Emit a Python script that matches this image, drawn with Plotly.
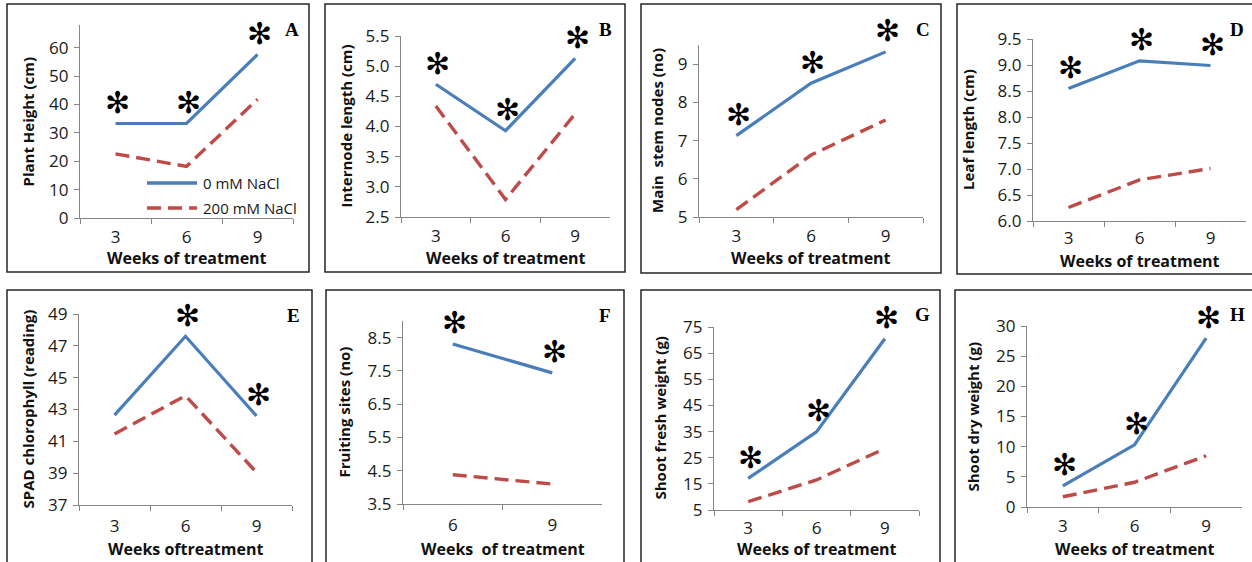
import plotly.graph_objects as go

W, H = 1252, 562

# ---- data -------------------------------------------------------------
weeks = ["3", "6", "9"]
weeks_fruit = ["6", "9"]

height_0 = [33.3, 33.3, 57.6]
height_200 = [22.6, 18.2, 41.8]
internode_0 = [4.70, 3.93, 5.13]
internode_200 = [4.34, 2.79, 4.21]
nodes_0 = [7.13, 8.50, 9.32]
nodes_200 = [5.19, 6.62, 7.54]
leaf_0 = [8.55, 9.08, 8.99]
leaf_200 = [6.26, 6.79, 7.01]
spad_0 = [42.65, 47.6, 42.6]
spad_200 = [41.46, 43.87, 39.05]
fruit_0 = [8.31, 7.44]
fruit_200 = [4.38, 4.10]
fresh_0 = [17.1, 34.9, 70.5]
fresh_200 = [8.2, 16.5, 28.5]
dry_0 = [3.5, 10.3, 28.0]
dry_200 = [1.7, 4.1, 8.5]

# weeks at which 0 mM vs 200 mM differ significantly
sig_height = ["3", "6", "9"]
sig_internode = ["3", "6", "9"]
sig_nodes = ["3", "6", "9"]
sig_leaf = ["3", "6", "9"]
sig_spad = ["6", "9"]
sig_fruit = ["6", "9"]
sig_fresh = ["3", "6", "9"]
sig_dry = ["3", "6", "9"]

series_names = ["0 mM NaCl", "200 mM NaCl"]

# ---- styling ----------------------------------------------------------
BLUE = "#4A7EBB"
RED = "#BE4B48"
AXIS = "#868686"
FONT = "Open Sans"
DASH = "14px,7px"

# per panel: plot box (left, right, top, bottom px), frame box, y-title x, x-title y,
# x-tick label standoff, panel-letter position
panels = [
    dict(letter="A", cats=weeks, c=height_0, s=height_200, sig=sig_height,
         yt="Plant Height (cm)", xt="Weeks of treatment", yr=[0, 68], t0=0, dt=10, fmt="d",
         box=(80, 293, 25, 218), frame=(7, 309, 4, 272), ytx=28, xty=258, sx=3, lp=(292, 29)),
    dict(letter="B", cats=weeks, c=internode_0, s=internode_200, sig=sig_internode,
         yt="Internode length (cm)", xt="Weeks of treatment", yr=[2.5, 5.5], t0=2.5, dt=0.5, fmt=".1f",
         box=(401, 610, 36, 217), frame=(325, 625, 4, 272), ytx=346, xty=258, sx=3, lp=(605, 29)),
    dict(letter="C", cats=weeks, c=nodes_0, s=nodes_200, sig=sig_nodes,
         yt="Main\u00a0 stem nodes (no)", xt="Weeks of treatment", yr=[5, 9.5], t0=5, dt=1, fmt="d",
         box=(699, 923, 45, 217), frame=(641, 941, 4, 273), ytx=657, xty=258, sx=3, lp=(923, 29)),
    dict(letter="D", cats=weeks, c=leaf_0, s=leaf_200, sig=sig_leaf,
         yt="Leaf length (cm)", xt="Weeks of treatment", yr=[6, 9.5], t0=6, dt=0.5, fmt=".1f",
         box=(1033, 1246, 39, 221), frame=(957, 1262, 4, 274), ytx=968, xty=261, sx=1, lp=(1237, 29)),
    dict(letter="E", cats=weeks, c=spad_0, s=spad_200, sig=sig_spad,
         yt="SPAD chlorophyll (reading)", xt="Weeks oftreatment", yr=[37, 49], t0=37, dt=2, fmt="d",
         box=(79, 292, 314, 505), frame=(7, 312, 290, 572), ytx=27, xty=549, sx=5, lp=(293, 315)),
    dict(letter="F", cats=weeks_fruit, c=fruit_0, s=fruit_200, sig=sig_fruit,
         yt="Fruiting sites (no)", xt="Weeks \u00a0of treatment", yr=[3.5, 9.0], t0=3.5, dt=1, fmt=".1f",
         box=(403, 602, 321, 504), frame=(326, 624, 290, 572), ytx=343, xty=549, sx=5, lp=(605, 315)),
    dict(letter="G", cats=weeks, c=fresh_0, s=fresh_200, sig=sig_fresh,
         yt="Shoot fresh weight (g)", xt="Weeks of treatment", yr=[5, 75], t0=5, dt=10, fmt="d",
         box=(714, 919, 327, 510), frame=(641, 940, 290, 572), ytx=659, xty=549, sx=2, lp=(923, 314)),
    dict(letter="H", cats=weeks, c=dry_0, s=dry_200, sig=sig_dry,
         yt="Shoot dry weight (g)", xt="Weeks of treatment", yr=[0, 30], t0=0, dt=5, fmt="d",
         box=(1027, 1242, 326, 507), frame=(955, 1262, 290, 572), ytx=972, xty=549, sx=3, lp=(1237, 314)),
]


def px_x(v):
    return v / W


def px_y(v):
    return 1 - v / H


fig = go.Figure()
annotations = []
shapes = []

for i, p in enumerate(panels, start=1):
    xa = "x" if i == 1 else f"x{i}"
    ya = "y" if i == 1 else f"y{i}"
    xkey = "xaxis" if i == 1 else f"xaxis{i}"
    ykey = "yaxis" if i == 1 else f"yaxis{i}"

    fig.add_trace(go.Scatter(
        x=p["cats"], y=p["s"], mode="lines", name=series_names[1],
        line=dict(color=RED, width=3.4, dash=DASH),
        xaxis=xa, yaxis=ya, showlegend=False, hoverinfo="skip"))
    fig.add_trace(go.Scatter(
        x=p["cats"], y=p["c"], mode="lines", name=series_names[0],
        line=dict(color=BLUE, width=3.2),
        xaxis=xa, yaxis=ya, showlegend=False, hoverinfo="skip"))

    l, r, t, b = p["box"]
    n = len(p["cats"])
    fig.update_layout(**{
        xkey: dict(
            domain=[px_x(l), px_x(r)], anchor=ya, type="category",
            range=[-0.5, n - 0.5], tickson="boundaries", automargin=False,
            showline=True, linecolor=AXIS, linewidth=1.2,
            ticks="outside", ticklen=5, tickcolor=AXIS, tickwidth=1.2,
            showgrid=False, zeroline=False, ticklabelstandoff=p["sx"],
            tickfont=dict(family=FONT, size=17, color="#1a1a1a"),
            fixedrange=True),
        ykey: dict(
            domain=[px_y(b), px_y(t)], anchor=xa, automargin=False,
            range=p["yr"], tick0=p["t0"], dtick=p["dt"], tickformat=p["fmt"],
            showline=True, linecolor=AXIS, linewidth=1.2,
            ticks="outside", ticklen=5, tickcolor=AXIS, tickwidth=1.2,
            showgrid=False, zeroline=False, ticklabelstandoff=2,
            tickfont=dict(family=FONT, size=17, color="#1a1a1a"),
            fixedrange=True),
    })

    # significance marks above the 0 mM line (x given as category index)
    for wk in p["sig"]:
        k = p["cats"].index(wk)
        annotations.append(dict(
            x=k, y=p["c"][k], xref=xa, yref=ya, text="\u273b", showarrow=False,
            xshift=2, yshift=21, font=dict(family="DejaVu Sans", size=30, color="black")))

    # axis titles
    annotations.append(dict(
        x=px_x(p["ytx"]), y=px_y((t + b) / 2), xref="paper", yref="paper",
        text=f"<b>{p['yt']}</b>", textangle=-90, showarrow=False,
        xanchor="center", yanchor="middle",
        font=dict(family=FONT, size=15, color="#111")))
    annotations.append(dict(
        x=px_x((l + r) / 2), y=px_y(p["xty"]), xref="paper", yref="paper",
        text=f"<b>{p['xt']}</b>", showarrow=False,
        xanchor="center", yanchor="middle",
        font=dict(family=FONT, size=16, color="#111")))

    # panel letter
    lx, ly = p["lp"]
    annotations.append(dict(
        x=px_x(lx), y=px_y(ly),
        xref="paper", yref="paper", text=f"<b>{p['letter']}</b>", showarrow=False,
        xanchor="center", yanchor="middle",
        font=dict(family="Liberation Serif", size=19, color="black")))

    # panel frame
    fl, fr, ft, fb = p["frame"]
    shapes.append(dict(type="rect", xref="paper", yref="paper",
                       x0=px_x(fl), x1=px_x(fr), y0=px_y(fb), y1=px_y(ft),
                       line=dict(color="#262626", width=1.5)))

# legend for panel A
leg_rows = [(series_names[0], BLUE, None, 183), (series_names[1], RED, DASH, 208)]
for name, col, dash, yy in leg_rows:
    ln = dict(color=col, width=3.4)
    if dash:
        ln["dash"] = dash
    shapes.append(dict(type="line", xref="paper", yref="paper",
                       x0=px_x(147), x1=px_x(197), y0=px_y(yy), y1=px_y(yy), line=ln))
    annotations.append(dict(x=px_x(201), y=px_y(yy), xref="paper", yref="paper",
                            text=name, showarrow=False, xanchor="left", yanchor="middle",
                            font=dict(family=FONT, size=15, color="#1a1a1a")))

fig.update_layout(
    template="none",
    width=W, height=H, autosize=False,
    margin=dict(l=0, r=0, t=0, b=0, pad=0),
    paper_bgcolor="white", plot_bgcolor="white",
    showlegend=False,
    annotations=annotations, shapes=shapes,
)

fig.write_html("out.html", config={"displayModeBar": False})
